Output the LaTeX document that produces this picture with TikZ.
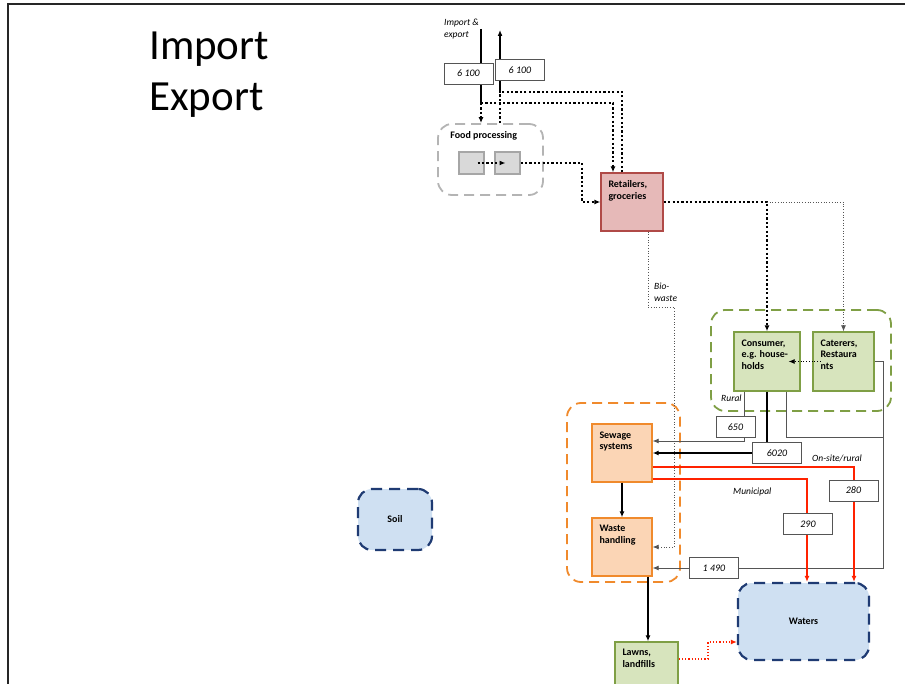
\documentclass[tikz,border=0pt]{standalone}
\usepackage{fontspec}
\setmainfont{Carlito}
\usetikzlibrary{arrows.meta}

\definecolor{retfill}{HTML}{E6B9B8}
\definecolor{retline}{HTML}{B04A47}
\definecolor{grnfill}{HTML}{D7E4BD}
\definecolor{grnline}{HTML}{7F9F45}
\definecolor{orgfill}{HTML}{FBD5B5}
\definecolor{orgline}{HTML}{F08A2C}
\definecolor{watfill}{HTML}{CFE0F2}
\definecolor{watline}{HTML}{1F3B73}
\definecolor{fpgray}{HTML}{B4B4B4}
\definecolor{sqfill}{HTML}{D9D9D9}
\definecolor{sqline}{HTML}{A6A6A6}
\definecolor{redflow}{HTML}{FF2200}
\definecolor{linegray}{HTML}{555555}

\newcommand{\boxfnt}{\bfseries\fontsize{10}{11.5}\selectfont}
\newcommand{\valfnt}{\itshape\fontsize{10}{12}\selectfont}
\newcommand{\tagfnt}{\itshape\fontsize{9.5}{12}\selectfont}

\tikzset{
  procbox/.style={draw, line width=1.4pt, inner sep=0pt, minimum width=60pt, minimum height=58pt,
    label={[anchor=north west, xshift=8pt, yshift=-8pt, align=left, font=\boxfnt, inner sep=0pt]north west:#1}},
  grp/.style={draw=#1, dashed, dash pattern=on 10pt off 6pt, line width=1.8pt, rounded corners=14pt, inner sep=0pt},
  waterbox/.style={draw=watline, fill=watfill, dash pattern=on 11pt off 7pt, line width=2.2pt,
    rounded corners=14pt, font=\boxfnt},
  sqbox/.style={draw=sqline, fill=sqfill, line width=1.2pt, minimum width=25pt, minimum height=22pt, inner sep=0pt},
  valbox/.style={draw=linegray, fill=white, line width=0.6pt, font=\valfnt, minimum width=49pt, minimum height=21pt, inner sep=0pt},
  flow/.style={line width=2.2pt},
  food/.style={line width=2.2pt, dash pattern=on 2.2pt off 2.2pt},
  thindot/.style={line width=0.7pt, dotted, draw=linegray},
  grayline/.style={line width=0.8pt, draw=linegray},
  redline/.style={line width=1.2pt, draw=redflow},
  reddot/.style={line width=1.2pt, dotted, draw=redflow},
  tag/.style={font=\tagfnt, inner sep=0pt},
}

\begin{document}
\begin{tikzpicture}[x=1pt, y=-1pt, >={Latex[length=6pt,width=5pt]}]
  \useasboundingbox (0,0) rectangle (905,684);
  \clip (0,0) rectangle (905,684);

  % frame and title
  \draw[line width=1.8pt, black!85] (8,684) -- (8,4) -- (905,4);
  \node[anchor=north west, align=left, inner sep=0pt, font=\fontsize{43}{51}\selectfont] (title) at (149,32) {Import\\Export};
  \node[tag, anchor=north west, align=left] (impexp) at (444,19) {Import \&\\export};

  % groups
  \node[grp=fpgray, minimum width=105pt, minimum height=71pt,
    label={[anchor=north west, xshift=13pt, yshift=-8pt, font=\boxfnt, inner sep=0pt]north west:Food processing}] (fp) at (490.5,159.5) {};
  \node[grp=grnline, minimum width=180pt, minimum height=101pt] (hh) at (801,360.5) {};
  \node[grp=orgline, minimum width=113pt, minimum height=179pt] (sw) at (623.5,492.5) {};

  % boxes
  \node[sqbox] (sq1) at (471.5,163) {};
  \node[sqbox] (sq2) at (507.5,163) {};
  \node[procbox={Retailers,\\groceries}, fill=retfill, draw=retline, minimum width=62pt] (ret) at (632,202) {};
  \node[procbox={Consumer,\\e.g. house-\\holds}, fill=grnfill, draw=grnline, minimum width=66pt, minimum height=59pt] (cons) at (767,361.5) {};
  \node[procbox={Caterers,\\Restaura\\nts}, fill=grnfill, draw=grnline, minimum width=61pt, minimum height=59pt] (cat) at (843.5,361.5) {};
  \node[procbox={Sewage\\systems}, fill=orgfill, draw=orgline] (sew) at (622,453) {};
  \node[procbox={Waste\\handling}, fill=orgfill, draw=orgline] (wh) at (622,547) {};
  \node[procbox={Lawns,\\landfills}, fill=grnfill, draw=grnline, minimum width=63pt] (lawn) at (646.5,671) {};
  \node[waterbox, minimum width=131pt, minimum height=77pt] (wat) at (803.5,621.5) {Waters};
  \node[waterbox, minimum width=74pt, minimum height=61pt] (soil) at (395,519.5) {Soil};

  % import and export
  \coordinate (imp) at (481,29);
  \coordinate (impsplit) at (481,103);
  \coordinate (exp) at (500,30);
  \coordinate (expjoin) at (500,92);
  \draw[flow] (imp) -- (impsplit);
  \draw[food,->] (impsplit) -- (impsplit |- fp.north);
  \draw[food,->] (impsplit) -| (613,0 |- ret.north);
  \draw[food] (500,0 |- fp.north) -- (expjoin);
  \draw[food] (622,0 |- ret.north) |- (expjoin);
  \draw[flow,->] (expjoin) -- (exp);

  % food chain
  \draw[food,->] ([xshift=6pt]sq1.center) -- ([xshift=-2pt]sq2.center);
  \draw[food,->] (sq2.east) -| (582,0 |- ret.west) -- (ret.west);
  \draw[food,->] (ret.east) -| (cons.north);
  \draw[thindot,->] (cons.north |- ret.east) -| (cat.north);
  \draw[thindot,->] (648,0 |- ret.south) |- (674,307) |- (wh.east);
  \draw[line width=0.7pt, dotted,->] ([xshift=8pt]cat.west) -- ([xshift=-12pt]cons.east);

  % waste water
  \draw[grayline,->] (744,0 |- cons.south) |- ([yshift=12pt]sew.east);
  \draw[flow,->] (cons.south) |- (sew.east);
  \draw[grayline] (786,0 |- cons.south) |- (883,437);
  \draw[grayline,->] (cat.east) -- (883,0 |- cat.east) |- ([yshift=-21pt]wh.east);
  \draw[redline,->] ([yshift=-14pt]sew.east) -| (854,0 |- wat.north);
  \draw[redline,->] ([yshift=-26pt]sew.east) -| (807,0 |- wat.north);
  \draw[flow,->] (sew.south) -- (wh.north);
  \draw[flow,->] (648,0 |- wh.south) -- (648,0 |- lawn.north);
  \draw[reddot,->] (lawn.east |- 0,659) -| (708,642) -- (wat.west |- 0,642);

  % values
  \node[valbox] (v6100a) at (468.5,73.5) {6 100};
  \node[valbox] (v6100b) at (520,70) {6 100};
  \node[valbox, minimum width=39pt] (v650) at (735.5,427) {650};
  \node[valbox] (v6020) at (777,453) {6020};
  \node[valbox] (v280) at (853.5,490.5) {280};
  \node[valbox] (v290) at (808,524) {290};
  \node[valbox] (v1490) at (714,568) {1 490};

  % labels
  \node[tag, anchor=north west, align=left] (bio) at (654,283) {Bio-\\waste};
  \node[tag, anchor=base west] (rural) at (721,402) {Rural};
  \node[tag, anchor=base west] (onsite) at (812,461) {On-site/rural};
  \node[tag, anchor=base west] (muni) at (733,494) {Municipal};
\end{tikzpicture}
\end{document}
